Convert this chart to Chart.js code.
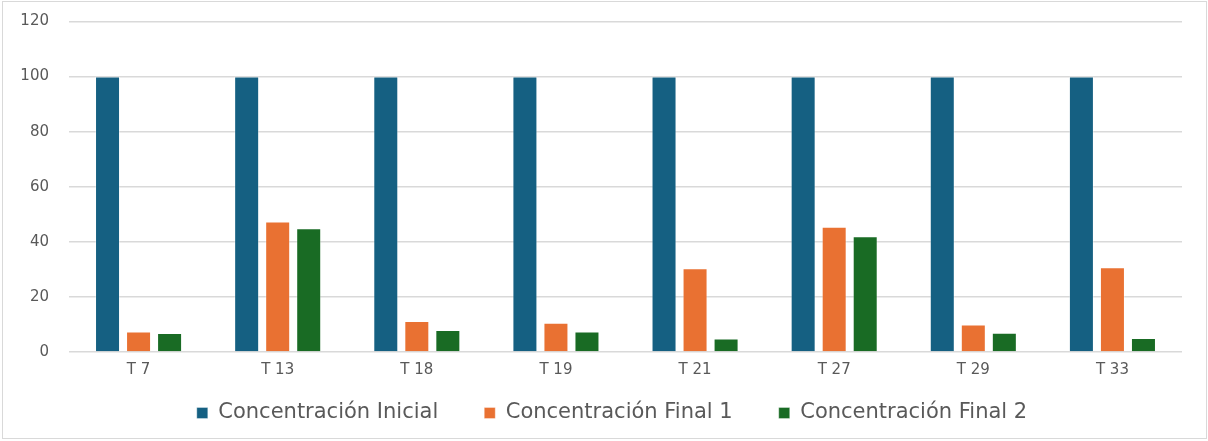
<!DOCTYPE html>
<html lang="es">
<head>
<meta charset="utf-8">
<title>Concentración por tratamiento</title>
<script src="https://cdn.jsdelivr.net/npm/chart.js@4.4.1/dist/chart.umd.min.js"></script>
<style>
  html, body { margin: 0; padding: 0; background: #ffffff; }
  #wrap { position: relative; width: 1208px; height: 441px; overflow: hidden; }
  #frame {
    position: absolute; left: 2px; top: 1px; width: 1205px; height: 438px;
    box-sizing: border-box; border: 1.5px solid #d9d9d9;
  }
  #chart { position: absolute; left: 0; top: 0; }
</style>
</head>
<body>
<div id="wrap">
  <div id="frame"></div>
  <canvas id="chart" width="1208" height="441"></canvas>
</div>
<script>
// Tratamientos evaluados
const categories = ['T 7', 'T 13', 'T 18', 'T 19', 'T 21', 'T 27', 'T 29', 'T 33'];

// Concentraciones (%)
const concentracionInicial = [100, 100, 100, 100, 100, 100, 100, 100];
const concentracionFinal1  = [7.4, 47.4, 11.3, 10.6, 30.4, 45.5, 10.0, 30.8];
const concentracionFinal2  = [6.9, 44.9, 8.0, 7.4, 4.9, 42.0, 7.0, 5.1];

// Eje vertical
const yTicks = [0, 20, 40, 60, 80, 100, 120];

const seriesNames = ['Concentración Inicial', 'Concentración Final 1', 'Concentración Final 2'];
const seriesColors = ['#156082', '#E97132', '#196B24'];

const textColor = '#595959';
const gridColor = '#d9d9d9';
const fontFamily = '"DejaVu Sans", "Liberation Sans", sans-serif';

const series = [concentracionInicial, concentracionFinal1, concentracionFinal2];

const datasets = series.map((values, i) => ({
  label: seriesNames[i],
  data: values,
  backgroundColor: seriesColors[i],
  borderColor: 'rgba(255,255,255,0.35)',
  borderWidth: 1,
  categoryPercentage: 0.669,
  barPercentage: 0.806
}));

// Places the legend row just below the category labels, centred on the frame.
const legendPlacement = {
  id: 'legendPlacement',
  afterLayout(chart) {
    const lg = chart.legend;
    if (!lg) return;
    const area = chart.chartArea;
    const h = lg.height;
    lg.left = area.left - 29;
    lg.right = area.right + 2;
    lg.top = area.bottom + 4.5;
    lg.bottom = lg.top + h;
  }
};

new Chart(document.getElementById('chart'), {
  type: 'bar',
  data: { labels: categories, datasets },
  plugins: [legendPlacement],
  options: {
    responsive: false,
    animation: false,
    devicePixelRatio: 1,
    layout: { padding: { left: 0, right: 26, top: 21.5, bottom: -28 } },
    scales: {
      x: {
        grid: { display: false },
        border: { display: false },
        ticks: {
          color: textColor,
          font: { family: fontFamily, size: 15 },
          padding: 1.5,
          maxRotation: 0
        },
        afterFit: (scale) => { scale.height = 40; }
      },
      y: {
        min: yTicks[0],
        max: yTicks[yTicks.length - 1],
        afterBuildTicks: (scale) => { scale.ticks = yTicks.map(v => ({ value: v })); },
        grid: {
          color: gridColor,
          lineWidth: 1.5,
          drawTicks: true,
          tickLength: 20,
          tickColor: 'rgba(0,0,0,0)'
        },
        border: { display: false },
        ticks: {
          color: textColor,
          font: { family: fontFamily, size: 15 },
          padding: 0
        },
        afterFit: (scale) => { scale.width = 69; }
      }
    },
    plugins: {
      legend: {
        position: 'bottom',
        labels: {
          color: textColor,
          font: { family: fontFamily, size: 21 },
          boxWidth: 11,
          boxHeight: 11,
          padding: 46
        }
      },
      tooltip: { enabled: false }
    }
  }
});
</script>
</body>
</html>
